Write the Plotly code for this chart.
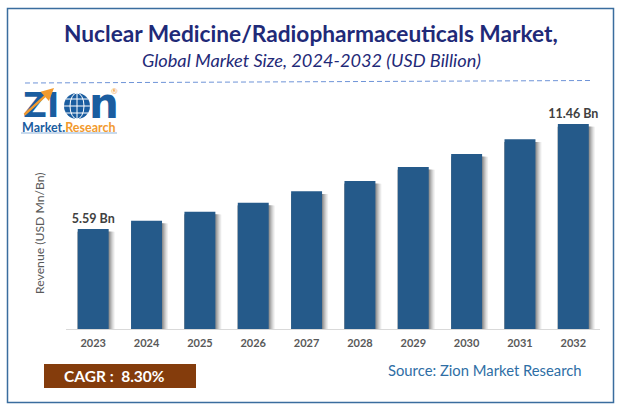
"""Nuclear medicine market size, bars with soft shadow and Zion style header"""
import plotly.graph_objects as go

##### Data #####
years = [2023, 2024, 2025, 2026, 2027, 2028, 2029, 2030, 2031, 2032]
revenue = [5.59, 6.05, 6.55, 7.05, 7.70, 8.27, 9.05, 9.78, 10.60, 11.46]
bar_labels = ["5.59 Bn", "", "", "", "", "", "", "", "", "11.46 Bn"]
shadow_colors = ["#f0f0f0", "#e2e2e2", "#d0d0d0", "#bcbcbc", "#a6a6a6", "#909090"]

title_text = "Nuclear Medicine/Radiopharmaceuticals Market,"
subtitle_text = "Global Market Size, 2024-2032 (USD Billion)"

W, H = 621, 410
L, R, T, B = 66, 600, 100, 329
BAR_W = 0.58
PX_X = 1 / 53.33


def px(x):
    return (x - L) / (R - L)


def py(y):
    return (B - y) / (B - T)


def label(x, y, text, size, color, bold=False, italic=False, font="Lato", anchor="center", angle=0):
    if bold:
        text = "<b>" + text + "</b>"
    if italic:
        text = "<i>" + text + "</i>"
    fig.add_annotation(x=px(x), y=py(y), xref="paper", yref="paper", text=text, showarrow=False,
                       xanchor=anchor, yanchor="middle", textangle=angle,
                       font=dict(family=font, size=size, color=color))


def box(x0, y0, x1, y1, **kw):
    fig.add_shape(xref="paper", yref="paper", x0=px(x0), x1=px(x1), y0=py(y0), y1=py(y1), **kw)


fig = go.Figure()

# Shadows first, widest and lightest at the back
n = len(shadow_colors)
for i, col in enumerate(shadow_colors):
    extra = (n - i) * PX_X
    fig.add_trace(go.Bar(x=years, y=[v - 0.15 for v in revenue], width=BAR_W + extra, offset=-BAR_W / 2,
                         marker=dict(color=col, line_width=0), hoverinfo="skip", showlegend=False))

fig.add_trace(go.Bar(x=years, y=revenue, width=BAR_W, offset=-BAR_W / 2, text=bar_labels,
                     textposition="outside", cliponaxis=False, constraintext="none",
                     textfont=dict(family="Lato", size=12.5, color="#404040", weight="bold"),
                     marker=dict(color="#255a8a", line_width=0), showlegend=False))

fig.update_layout(
    width=W, height=H, barmode="overlay", paper_bgcolor="white", plot_bgcolor="white",
    margin=dict(l=L, r=W - R, t=T, b=H - B, pad=0),
    xaxis=dict(range=[2022.49, 2032.5], tickmode="array", tickvals=years, ticks="", showgrid=False,
               showline=True, linecolor="#d9d9d9", linewidth=1, ticklabelstandoff=4,
               tickfont=dict(family="Lato", size=11, color="#595959", weight="bold")),
    yaxis=dict(range=[0, 12.8], visible=False),
)

# Frame, header rule and CAGR box
box(7.5, 8.5, 613.5, 402.5, type="rect", line=dict(color="#3a6d9e", width=1.5))
box(25, 83, 592, 80.5, type="line", line=dict(color="#6f94d8", width=1, dash="5px,3px"))
box(44, 364, 196, 388, type="rect", fillcolor="#843c0c", line_width=0)

label(311, 33, title_text, 22.7, "#1f2a78", bold=True)
label(311, 60, subtitle_text, 18.2, "#1f2a78", italic=True)
label(39, 233, "Revenue (USD Mn/Bn)", 12.2, "#595959", angle=-90)
label(114, 376, "CAGR :  8.30%", 15.5, "white", bold=True)
label(485, 370, "Source: Zion Market Research", 14.8, "#2e6ea5")

# Logo
label(41, 106, "ZI", 33, "#1a5da0", bold=True, font="DejaVu Sans")
label(104, 103, "n", 42, "#1a5da0", bold=True, font="DejaVu Sans")
box(64, 93, 90, 119, type="circle", fillcolor="#1a5da0", line_width=0)
box(70, 93, 84, 119, type="circle", line=dict(color="white", width=1))
box(64, 106, 90, 106, type="line", line=dict(color="white", width=1))
box(66, 99, 88, 99, type="line", line=dict(color="white", width=1))
box(66, 113, 88, 113, type="line", line=dict(color="white", width=1))
box(77, 93, 77, 119, type="line", line=dict(color="white", width=1))
fig.add_annotation(x=px(54), y=py(88), ax=-31, ay=28, xref="paper", yref="paper", text="", showarrow=True,
                   arrowhead=2, arrowsize=1, arrowwidth=2.5, arrowcolor="#f29a2e")
label(69, 127, "Market.<span style='color:#f29a2e'>Research</span>", 12.5, "#1a5da0", bold=True)
label(114, 91, "®", 8, "#f29a2e")
box(21, 133, 117, 133, type="line", line=dict(color="#8fb3d9", width=1))

fig.write_html("out.html", config={"displayModeBar": False}, post_script="document.body.style.margin='0';")
